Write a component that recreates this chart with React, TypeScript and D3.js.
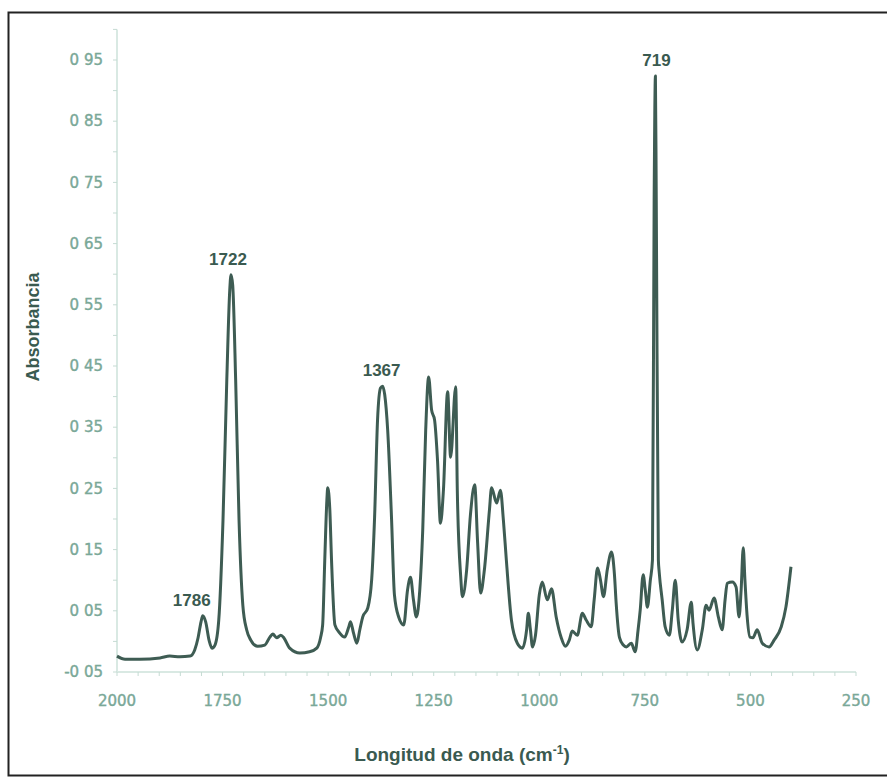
import React from 'react';
import * as d3 from 'd3';

// spectrum (wavenumber in cm-1, absorbance)
const wavenumber = [
  2000, 1981, 1946, 1898, 1875, 1851, 1827, 1816, 1808, 1801, 1797, 1790, 1782, 1775, 1768, 1759,
  1749, 1740, 1733, 1730, 1726, 1719, 1711, 1702, 1693, 1683, 1667, 1650, 1638, 1631, 1622, 1612,
  1605, 1591, 1567, 1544, 1527, 1518, 1513, 1508, 1503, 1501, 1496, 1492, 1484, 1473, 1461, 1451,
  1447, 1440, 1432, 1425, 1418, 1406, 1397, 1390, 1383, 1376, 1371, 1366, 1359, 1350, 1343, 1333,
  1321, 1312, 1305, 1298, 1291, 1283, 1276, 1269, 1262, 1255, 1248, 1241, 1234, 1227, 1217, 1210,
  1198, 1194, 1186, 1182, 1172, 1163, 1153, 1146, 1139, 1130, 1118, 1113, 1101, 1092, 1085, 1078,
  1066, 1052, 1040, 1030, 1026, 1021, 1016, 1009, 1000, 993, 981, 971, 960, 948, 938, 929,
  922, 910, 898, 889, 877, 870, 862, 855, 848, 839, 829, 822, 818, 810, 801, 794,
  782, 773, 766, 761, 754, 749, 744, 737, 732, 728, 725, 723, 718, 716, 709, 702,
  692, 685, 678, 671, 662, 650, 640, 636, 626, 614, 605, 598, 586, 576, 567, 560,
  555, 543, 534, 527, 522, 517, 513, 508, 501, 494, 484, 472, 456, 444, 427, 416, 404,
];
const absorbance = [
  -0.024, -0.029, -0.029, -0.027, -0.024, -0.025, -0.024, -0.014, 0.006, 0.032, 0.042, 0.032, 0.002, -0.011, -0.006, 0.035,
  0.198, 0.427, 0.574, 0.599, 0.582, 0.427, 0.198, 0.059, 0.019, 0.002, -0.008, -0.006, 0.007, 0.012, 0.006, 0.010,
  0.006, -0.011, -0.019, -0.017, -0.011, 0.006, 0.027, 0.133, 0.231, 0.251, 0.215, 0.133, 0.027, 0.014, 0.007, 0.024,
  0.032, 0.014, -0.003, 0.019, 0.040, 0.055, 0.100, 0.203, 0.362, 0.414, 0.417, 0.403, 0.345, 0.203, 0.076, 0.040,
  0.027, 0.084, 0.105, 0.068, 0.040, 0.084, 0.182, 0.345, 0.432, 0.378, 0.362, 0.296, 0.193, 0.247, 0.408, 0.301,
  0.416, 0.242, 0.105, 0.073, 0.117, 0.207, 0.256, 0.161, 0.079, 0.117, 0.215, 0.251, 0.226, 0.247, 0.198, 0.133,
  0.035, -0.003, -0.011, 0.019, 0.046, 0.019, -0.009, 0.010, 0.076, 0.097, 0.068, 0.086, 0.040, 0.006, -0.008, 0.002,
  0.017, 0.010, 0.046, 0.035, 0.024, 0.068, 0.120, 0.100, 0.073, 0.117, 0.146, 0.109, 0.063, 0.006, -0.006, -0.009,
  -0.003, -0.017, 0.019, 0.051, 0.109, 0.084, 0.056, 0.100, 0.133, 0.721, 0.924, 0.721, 0.133, 0.113, 0.068, 0.024,
  0.010, 0.051, 0.100, 0.035, -0.001, 0.019, 0.064, 0.030, -0.014, 0.019, 0.059, 0.051, 0.071, 0.040, 0.019, 0.068,
  0.095, 0.097, 0.089, 0.040, 0.084, 0.153, 0.100, 0.043, 0.007, 0.006, 0.019, -0.003, -0.009, 0.002, 0.024, 0.056, 0.122,
];

const xTicks = [2000, 1750, 1500, 1250, 1000, 750, 500, 250];
const yTicks = [-0.05, 0.05, 0.15, 0.25, 0.35, 0.45, 0.55, 0.65, 0.75, 0.85, 0.95];
const yTickLabels = ['-0 05', '0 05', '0 15', '0 25', '0 35', '0 45', '0 55', '0 65', '0 75', '0 85', '0 95'];

const peakLabels = ['1786', '1722', '1367', '719'];
const peakWn = [1797, 1730, 1371, 725];
const peakAbs = [0.042, 0.599, 0.417, 0.924];

export default function App() {
  const width = 887;
  const height = 781;
  const x = d3.scaleLinear().domain([2000, 250]).range([117, 856]);
  const y = d3.scaleLinear().domain([-0.05, 1.0]).range([672, 29.4]);

  const points: [number, number][] = wavenumber.map((w, i) => [w, absorbance[i]]);
  const line = d3.line<[number, number]>()
    .x(d => x(d[0]))
    .y(d => y(d[1]))
    .curve(d3.curveMonotoneX);

  const minorX = d3.range(2000, 249, -50);
  const minorY = d3.range(-0.05, 1.0001, 0.05);
  const labelColor = '#7aa898';
  const titleColor = '#3a5a50';
  const lineColor = '#3e5c53';
  const axisColor = '#d9e9e3';
  const peakDx = [-11, -3, -1, 1];

  return (
    <svg width={width} height={height} style={{ position: 'absolute', left: 0, top: 0 }}>
      <rect x={0} y={0} width={width} height={height} fill="#fff" />
      <rect x={8.5} y={12.5} width={890} height={763} fill="none" stroke="#222" strokeWidth={2} />

      {/* axes */}
      <line x1={x(2000)} x2={x(2000)} y1={y(1.0)} y2={y(-0.05)} stroke={axisColor} strokeWidth={2} />
      <line x1={x(2000)} x2={x(250)} y1={y(-0.05)} y2={y(-0.05)} stroke={axisColor} strokeWidth={2} />
      {minorY.map((v, i) => (
        <line key={'my' + i} x1={x(2000) - 4} x2={x(2000)} y1={y(v)} y2={y(v)} stroke="#c5dbd3" strokeWidth={1} />
      ))}
      {minorX.map((v, i) => (
        <line key={'mx' + i} x1={x(v)} x2={x(v)} y1={y(-0.05)} y2={y(-0.05) + 4} stroke="#c5dbd3" strokeWidth={1} />
      ))}

      {yTicks.map((v, i) => (
        <text key={'yt' + i} x={103} y={y(v)} dy="0.35em" textAnchor="end"
          fontFamily="DejaVu Sans" fontSize={15} fill={labelColor}
          stroke={labelColor} strokeWidth={0.4}>{yTickLabels[i]}</text>
      ))}
      {xTicks.map(v => (
        <text key={'xt' + v} x={x(v)} y={706} textAnchor="middle"
          fontFamily="DejaVu Sans" fontSize={15} fill={labelColor}
          stroke={labelColor} strokeWidth={0.4}>{v}</text>
      ))}

      <path d={line(points) || ''} fill="none" stroke={lineColor} strokeWidth={3} strokeLinejoin="round" />

      {peakLabels.map((t, i) => (
        <text key={t} x={x(peakWn[i]) + peakDx[i]} y={y(peakAbs[i]) - 10} textAnchor="middle"
          fontFamily="Liberation Sans" fontWeight="bold" fontSize={17} fill={titleColor}>{t}</text>
      ))}

      <text x={462} y={761} textAnchor="middle" fontFamily="Liberation Sans" fontWeight="bold"
        fontSize={19} fill={titleColor}>
        Longitud de onda (cm<tspan dy={-7} fontSize={12}>-1</tspan><tspan dy={7}>)</tspan>
      </text>
      <text transform="translate(39,327) rotate(-90)" textAnchor="middle" fontFamily="Liberation Sans"
        fontWeight="bold" fontSize={18} fill={titleColor}>Absorbancia</text>
    </svg>
  );
}
